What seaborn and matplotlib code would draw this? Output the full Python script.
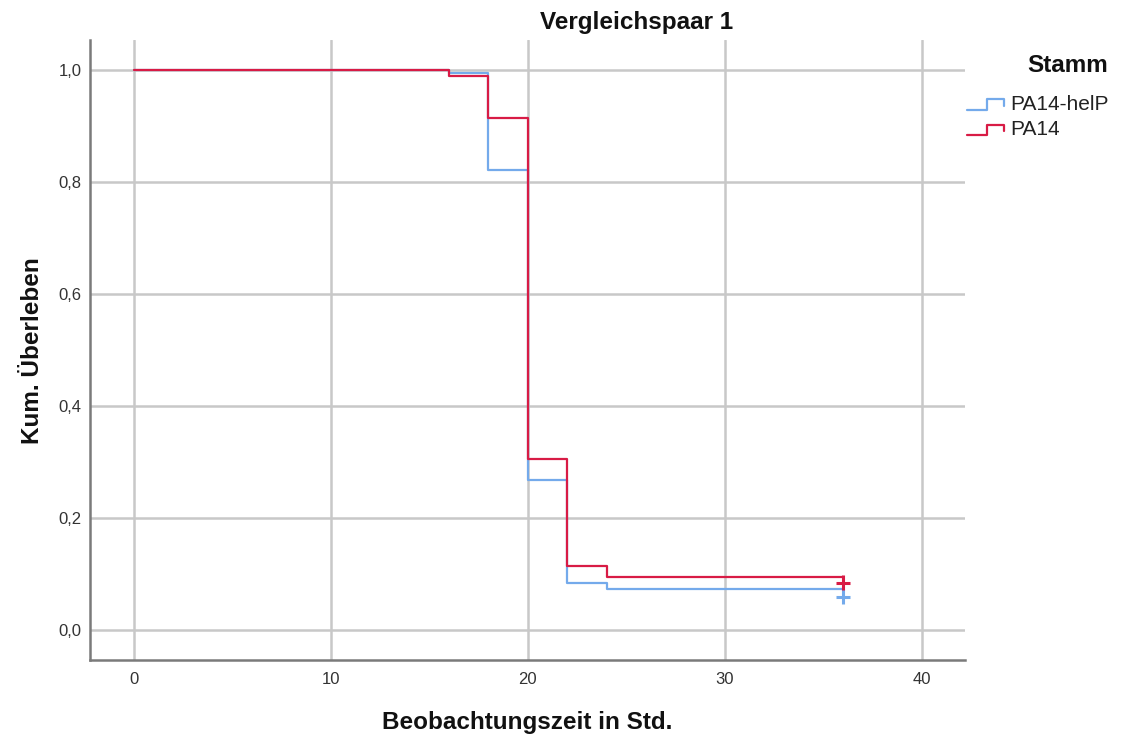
import matplotlib
matplotlib.use("Agg")
import matplotlib.pyplot as plt
import seaborn as sns
import pandas as pd
from matplotlib.legend_handler import HandlerBase
from matplotlib.lines import Line2D

# Data (Kaplan-Meier step values)
times = [0, 16, 18, 20, 22, 24, 36]
surv_helP = [1.0, 0.995, 0.821, 0.267, 0.083, 0.073, 0.073]
surv_pa14 = [1.0, 0.990, 0.914, 0.305, 0.114, 0.094, 0.094]
censor_time = [36, 36]
censor_surv = [0.059, 0.084]
strains = ["PA14-helP", "PA14"]
colors = {"PA14-helP": "#74AAEB", "PA14": "#D81B45"}
x_ticks = [0, 10, 20, 30, 40]
y_ticks = [0.0, 0.2, 0.4, 0.6, 0.8, 1.0]

df = pd.DataFrame({
    "time": times + times,
    "surv": surv_helP + surv_pa14,
    "Stamm": [strains[0]] * len(times) + [strains[1]] * len(times),
})
cens = pd.DataFrame({"time": censor_time, "surv": censor_surv, "Stamm": strains})

sns.set_style("white")
plt.rcParams["font.family"] = ["Liberation Sans", "DejaVu Sans"]

fig = plt.figure(figsize=(11.26, 7.45), dpi=100)
ax = fig.add_axes([90 / 1126, 1 - 660 / 745, 875 / 1126, 620 / 745])

sns.lineplot(data=df, x="time", y="surv", hue="Stamm", palette=colors,
             estimator=None, drawstyle="steps-post", linewidth=1.6,
             legend=False, ax=ax, sort=False)
sns.scatterplot(data=cens, x="time", y="surv", hue="Stamm", palette=colors,
                marker="+", s=110, linewidth=2.2, legend=False, ax=ax, zorder=5)

ax.set_xlim(-2.23, 42.2)
ax.set_ylim(-0.054, 1.054)
ax.set_xticks(x_ticks)
ax.set_yticks(y_ticks)
ax.set_xticklabels([str(t) for t in x_ticks])
ax.set_yticklabels([f"{v:.1f}".replace(".", ",") for v in y_ticks])
ax.grid(True, color="#c8c8c8", linewidth=1.8)
ax.set_axisbelow(True)
for s in ["top", "right"]:
    ax.spines[s].set_visible(False)
for s in ["left", "bottom"]:
    ax.spines[s].set_color("#7a7a7a")
    ax.spines[s].set_linewidth(1.8)
ax.tick_params(axis="both", which="both", length=0, labelsize=12,
               labelcolor="#333333")
ax.tick_params(axis="x", pad=9)
ax.tick_params(axis="y", pad=6)

ax.set_xlabel("Beobachtungszeit in Std.", fontsize=17.5, fontweight="bold",
              color="#111111")
ax.set_ylabel("Kum. Überleben", fontsize=17.5, fontweight="bold",
              color="#111111")
ax.xaxis.set_label_coords(0.5, (660 - 723) / 620)
ax.yaxis.set_label_coords((33 - 90) / 875, (660 - 351) / 620)
ax.xaxis.label.set_va("center")
ax.yaxis.label.set_va("center")
fig.text(637 / 1126, 1 - 22 / 745, "Vergleichspaar 1", ha="center", va="center",
         fontsize=17.5, fontweight="bold", color="#111111")


class StepHandler(HandlerBase):
    def create_artists(self, legend, orig_handle, xdescent, ydescent,
                       width, height, fontsize, trans):
        w, h = width, height
        xs = [0, 0.55 * w, 0.55 * w, w, w]
        ys = [0.0 * h, 0.0 * h, h, h, 0.4 * h]
        line = Line2D(xs, ys, color=orig_handle.get_color(), linewidth=1.6)
        line.set_transform(trans)
        return [line]


handles = [Line2D([], [], color=colors[s]) for s in strains]
leg = fig.legend(handles, strains, loc="upper left",
                 bbox_to_anchor=(948 / 1126, 1 - 35 / 745), frameon=False,
                 title="Stamm", fontsize=15, handlelength=1.78, handleheight=0.4,
                 handletextpad=0.29, labelspacing=0.3,
                 handler_map={Line2D: StepHandler()})
leg.get_title().set_fontweight("bold")
leg.get_title().set_fontsize(17.5)
leg.get_title().set_color("#111111")
for t in leg.get_texts():
    t.set_color("#222222")
leg._legend_box.align = "right"
leg._legend_box.sep = 13

fig.savefig("out.png", dpi=100)
